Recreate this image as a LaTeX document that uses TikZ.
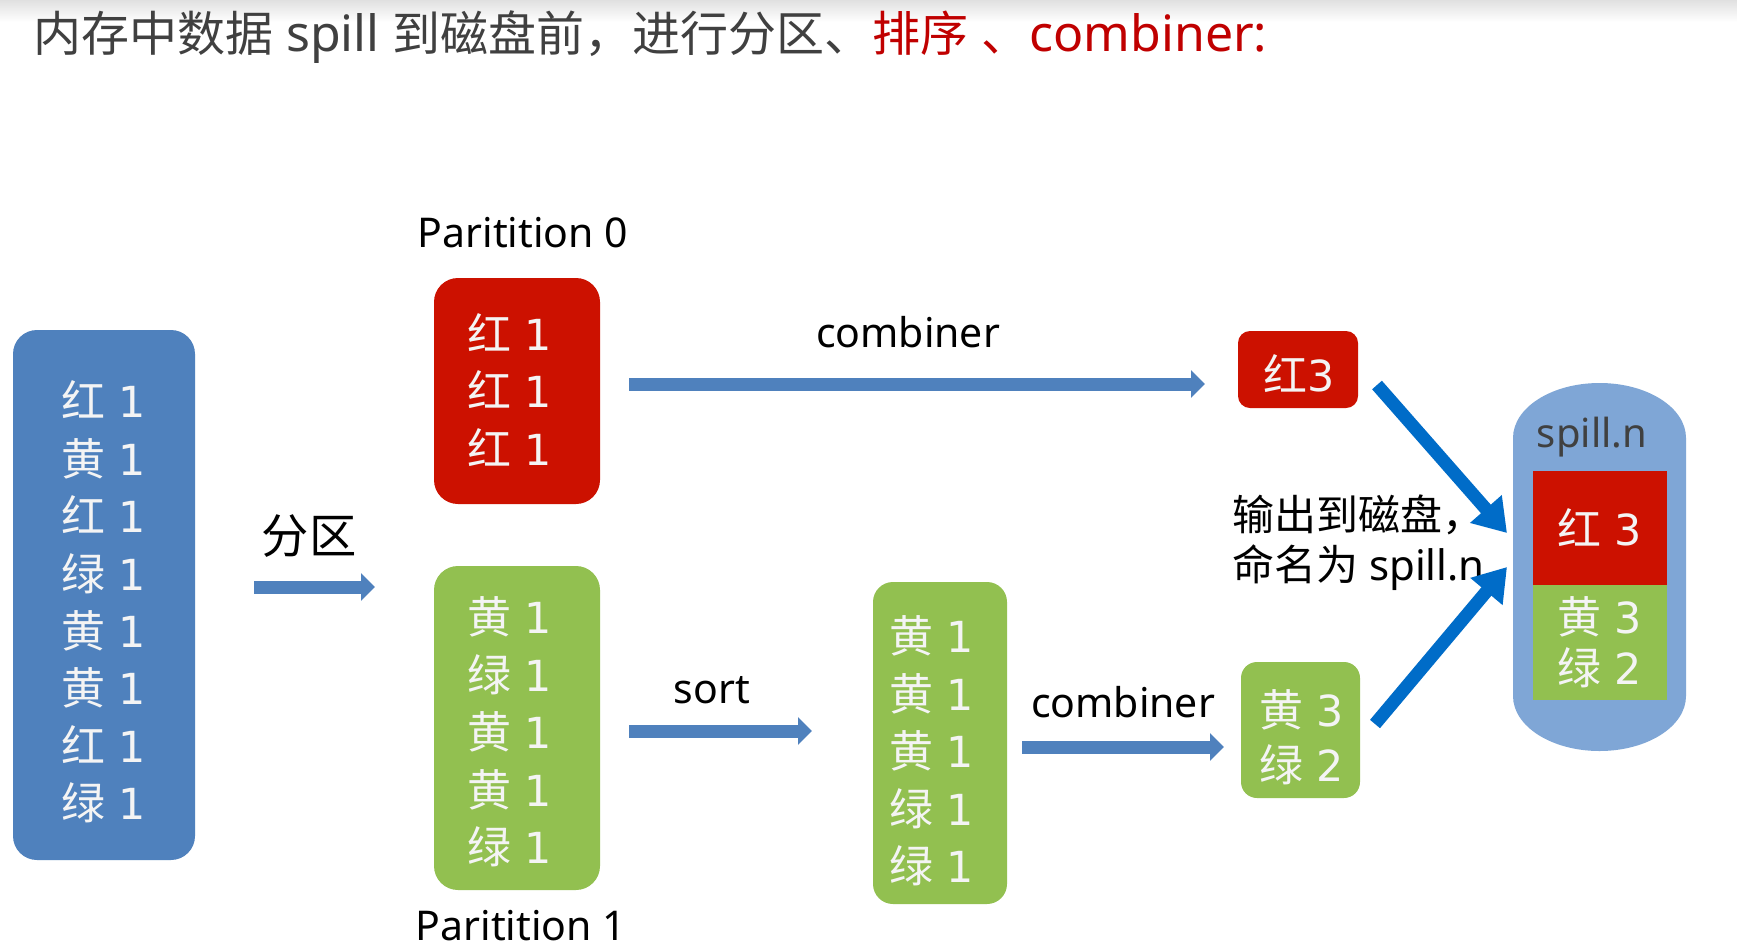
\documentclass[tikz,border=0pt]{standalone}
\usepackage{fontspec}
\setmainfont{Noto Sans}
\newfontfamily\cjk[Scale=1.1]{Noto Sans CJK SC}
\newfontfamily\cjkn{Noto Sans CJK SC}
\newfontfamily\dig[Scale=1.07]{DejaVu Sans}
\usetikzlibrary{arrows.meta}
\definecolor{boxblue}{RGB}{79,129,189}
\definecolor{boxred}{RGB}{204,17,0}
\definecolor{boxgreen}{RGB}{146,192,80}
\definecolor{capblue}{RGB}{127,166,214}
\definecolor{arrowblue}{RGB}{0,108,200}
\definecolor{titlegray}{RGB}{64,64,64}
\definecolor{titlered}{RGB}{192,0,0}
\definecolor{boxtext}{RGB}{244,244,244}
\newcommand{\zhc}[1]{{\cjk #1}}
\newcommand{\zhn}[1]{{\cjkn #1}}
\newcommand{\kv}[2]{{\cjk #1}\hspace{13pt}{\dig #2}}
\tikzset{
  databox/.style={rounded corners=24pt, inner sep=0pt},
  boxtxt/.style={inner sep=0pt, align=center, text=boxtext},
  lbl/.style={font=\fontsize{41}{48}\selectfont, text=black, inner sep=0pt},
  flowarrow/.style={draw=boxblue, line width=13pt, -{Triangle[width=27pt,length=14pt]}},
  diskarrow/.style={draw=arrowblue, line width=13pt, -{Triangle[width=40pt,length=32pt]}},
}
\begin{document}
\begin{tikzpicture}[x=1pt,y=-1pt]
\useasboundingbox (0,0) rectangle (1737,951);
\fill[white] (0,0) rectangle (1737,951);
\shade[top color=black!12, bottom color=white, draw=none] (0,0) rectangle (1737,22);

% title
\node[anchor=base west, inner sep=0pt, font=\fontsize{50}{55}\selectfont, text=titlegray] (title) at (33,51)
  {{\fontsize{48}{55}\selectfont\zhn{内存中数据}} spill {\fontsize{48}{55}\selectfont\zhn{到磁盘前，进行分区、}}\textcolor{titlered}{{\fontsize{48}{55}\selectfont\zhn{排序}} {\fontsize{48}{55}\selectfont\zhn{、}}combiner:}};

% source box
\node[databox, fill=boxblue, minimum width=182pt, minimum height=530pt] (src) at (104,595) {};
\node[boxtxt, font=\fontsize{40}{57.4}\selectfont] (srct) at (104,602)
  {\kv{红}{1}\\\kv{黄}{1}\\\kv{红}{1}\\\kv{绿}{1}\\\kv{黄}{1}\\\kv{黄}{1}\\\kv{红}{1}\\\kv{绿}{1}};

\node[lbl, font=\fontsize{43}{50}\selectfont\cjk] (fq) at (309,536) {分区};
\coordinate (fqs) at (254,587);
\coordinate (fqe) at (375,587);
\draw[flowarrow] (fqs) -- (fqe);

% partition 0
\node[lbl, anchor=base] (p0lbl) at (523,247) {Paritition 0};
\node[databox, fill=boxred, minimum width=166pt, minimum height=226pt] (p0) at (517,391) {};
\node[boxtxt, font=\fontsize{40}{57.7}\selectfont] (p0t) at (510,390)
  {\kv{红}{1}\\\kv{红}{1}\\\kv{红}{1}};

% partition 1
\node[databox, fill=boxgreen, minimum width=166pt, minimum height=324pt] (p1) at (517,728) {};
\node[boxtxt, font=\fontsize{40}{57.6}\selectfont] (p1t) at (510,732)
  {\kv{黄}{1}\\\kv{绿}{1}\\\kv{黄}{1}\\\kv{黄}{1}\\\kv{绿}{1}};
\node[lbl, anchor=base] (p1lbl) at (521,940) {Paritition 1};

% top combiner
\node[lbl, anchor=base] (c1lbl) at (908,347) {combiner};
\coordinate (c1s) at (629,384);
\coordinate (c1e) at (1205,384);
\draw[flowarrow] (c1s) -- (c1e);

\node[databox, rounded corners=12pt, fill=boxred, minimum width=120pt, minimum height=77pt] (r3) at (1298,369.5) {};
\node[boxtxt, font=\fontsize{40}{50}\selectfont] (r3t) at (1299,374) {\zhc{红}{\dig 3}};

% sort
\node[lbl, anchor=base] (sortlbl) at (712,703) {sort};
\coordinate (ss) at (629,731);
\coordinate (se) at (812,731);
\draw[flowarrow] (ss) -- (se);

\node[databox, rounded corners=20pt, fill=boxgreen, minimum width=134pt, minimum height=322pt] (sorted) at (940,743) {};
\node[boxtxt, font=\fontsize{40}{57.6}\selectfont] (sortedt) at (932,751)
  {\kv{黄}{1}\\\kv{黄}{1}\\\kv{黄}{1}\\\kv{绿}{1}\\\kv{绿}{1}};

% bottom combiner
\node[lbl, anchor=base] (c2lbl) at (1123,717) {combiner};
\coordinate (c2s) at (1022,747);
\coordinate (c2e) at (1224,747);
\draw[flowarrow] (c2s) -- (c2e);

\node[databox, rounded corners=16pt, fill=boxgreen, minimum width=119pt, minimum height=136pt] (yg) at (1300.5,730) {};
\node[boxtxt, font=\fontsize{40}{55.4}\selectfont] (ygt) at (1302,737)
  {\kv{黄}{3}\\\kv{绿}{2}};

% spill capsule
\fill[capblue] (1513,438) .. controls (1513,407.6) and (1551.7,383) .. (1599.5,383)
  .. controls (1647.3,383) and (1686,407.6) .. (1686,438)
  -- (1686,696) .. controls (1686,726.4) and (1647.3,751) .. (1599.5,751)
  .. controls (1551.7,751) and (1513,726.4) .. (1513,696) -- cycle;
\node[inner sep=0pt, font=\fontsize{40}{48}\selectfont, text=titlegray, anchor=base] (spl) at (1592,447) {spill.n};
\node[fill=boxred, inner sep=0pt, minimum width=134pt, minimum height=114pt, text=boxtext,
      font=\fontsize{40}{50}\selectfont] (sp1) at (1600,528) {\kv{红}{3}};
\node[fill=boxgreen, inner sep=0pt, minimum width=134pt, minimum height=115pt, text=boxtext, align=center,
      font=\fontsize{40}{51}\selectfont] (sp2) at (1600,642.5) {\kv{黄}{3}\\\kv{绿}{2}};

% output label
\node[lbl, anchor=base west, font=\fontsize{42}{50}\selectfont] (out1) at (1232,530) {\zhn{输出到磁盘，}};
\node[lbl, anchor=base west, font=\fontsize{42}{50}\selectfont] (out2) at (1232,580) {\zhn{命名为} spill.n};

% disk arrows
\coordinate (d1s) at (1377,385);
\coordinate (d1e) at (1507,533);
\coordinate (d2s) at (1375,724);
\coordinate (d2e) at (1507,567);
\draw[diskarrow] (d1s) -- (d1e);
\draw[diskarrow] (d2s) -- (d2e);
\end{tikzpicture}
\end{document}
